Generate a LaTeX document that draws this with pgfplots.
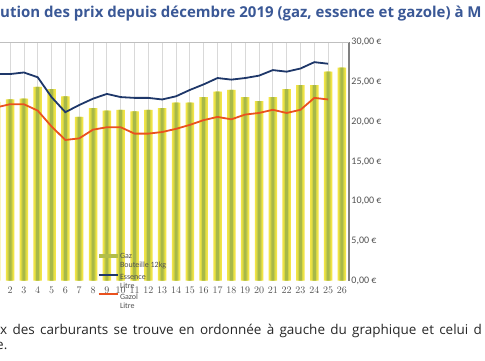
\documentclass[border=0pt]{standalone}
\usepackage{fontspec}
\setmainfont{Open Sans}
\newfontfamily\carlito{Carlito}
\newfontfamily\bodyfont[WordSpace=1.5]{Open Sans}
\usepackage{pgfplots}
\usepackage{pgfplotstable}
\pgfplotsset{compat=1.18}
\definecolor{titleblue}{RGB}{58,88,150}
\definecolor{barY}{RGB}{242,228,70}
\definecolor{barM}{RGB}{214,214,70}
\definecolor{barG}{RGB}{168,184,72}
\definecolor{essence}{RGB}{30,55,105}
\definecolor{gazole}{RGB}{234,82,30}
\definecolor{tickgray}{RGB}{80,80,80}
\pgfplotstableread{
x gaz essence gazole
1 22.5 26.0 21.8
2 22.8 26.0 22.2
3 22.9 26.2 22.2
4 24.4 25.6 21.4
5 24.1 23.1 19.4
6 23.2 21.2 17.7
7 20.6 22.1 17.9
8 21.7 22.9 19.0
9 21.4 23.5 19.3
10 21.5 23.1 19.3
11 21.3 23.0 18.5
12 21.5 23.0 18.5
13 21.7 22.8 18.7
14 22.4 23.2 19.1
15 22.4 24.0 19.6
16 23.1 24.7 20.2
17 23.8 25.5 20.6
18 24.0 25.3 20.3
19 23.1 25.5 20.9
20 22.6 25.8 21.1
21 23.1 26.5 21.5
22 24.1 26.3 21.1
23 24.6 26.7 21.5
24 24.6 27.5 23.0
25 26.3 27.3 22.8
26 26.8 nan nan
}\datatable
\newcommand{\twoline}[2]{\begin{tabular}[t]{@{}l@{}}#1\\#2\end{tabular}}
\begin{document}
\begin{tikzpicture}[x=1pt,y=1pt]
\useasboundingbox (0,0) rectangle (485,360);
\clip (0,0) rectangle (485,360);
\node[anchor=base west, inner sep=0, font=\bfseries\fontsize{15}{17}\selectfont, text=titleblue] at (0,343) {ution des prix depuis décembre 2019 (gaz, essence et gazole) à M};
\begin{axis}[
  scale only axis, width=359.6pt, height=238.2pt,
  at={(-10.7pt,79.5pt)}, anchor=south west,
  xmin=0.5, xmax=26.5, ymin=0, ymax=30,
  axis x line*=bottom, axis y line*=right,
  x axis line style={draw=none},
  y axis line style={draw=black!50, line width=1.5pt},
  xtick={1,...,26}, ytick={0,5,...,30},
  yticklabels={{0,00 €},{5,00 €},{10,00 €},{15,00 €},{20,00 €},{25,00 €},{30,00 €}},
  major tick length=0pt,
  xmajorgrids, grid style={draw=black!15, line width=0.75pt},
  extra y ticks={30}, extra y tick labels={},
  extra y tick style={grid=major, major grid style={draw=black!25, line width=0.75pt}},
  xticklabel style={font=\carlito\fontsize{10}{11}\selectfont, text=tickgray, yshift=-3pt},
  yticklabel style={font=\carlito\fontsize{10}{11}\selectfont, text=tickgray, xshift=-1pt},
  unbounded coords=jump,
  legend cell align=left,
  legend style={at={(0.301,0.125)}, anchor=north west, draw=none, fill=none,
    font=\carlito\fontsize{8}{9}\selectfont, text=tickgray,
    inner sep=0pt, row sep=9.7pt,
    nodes={inner sep=1.5pt}},
]
\addplot[ybar, bar width=8.5pt, bar shift=0pt, fill=barY, draw=none, forget plot] table[x=x, y=gaz] {\datatable};
\addplot[ybar, bar width=5.5pt, bar shift=0pt, fill=barM, draw=none, forget plot] table[x=x, y=gaz] {\datatable};
\addplot[ybar, bar width=3pt, bar shift=0pt, fill=barG, draw=none,
  legend image code/.code={\fill[barG!85!barY] (0pt,-2pt) rectangle (19pt,2pt);}] table[x=x, y=gaz] {\datatable};
\addlegendentry{\twoline{Gaz}{Bouteille 12kg}}
\addplot[essence, line width=1.8pt, no marks,
  legend image code/.code={\draw[essence, line width=1.8pt] (0pt,2pt) -- (19pt,2pt);}] table[x=x, y=essence] {\datatable};
\addlegendentry{\twoline{Essence}{Litre}}
\addplot[gazole, line width=1.8pt, no marks,
  legend image code/.code={\draw[gazole, line width=1.8pt] (0pt,3pt) -- (19pt,3pt);}] table[x=x, y=gazole] {\datatable};
\addlegendentry{\twoline{Gazol}{Litre}}
\end{axis}
\node[anchor=base west, inner sep=0, font=\bodyfont\fontsize{13.5}{15}\selectfont, text=black!85] at (0,26) {x des carburants se trouve en ordonnée à gauche du graphique et celui d};
\node[anchor=base west, inner sep=0, font=\bodyfont\fontsize{13.5}{15}\selectfont, text=black!85] at (-4,11) {e.};
\end{tikzpicture}
\end{document}
